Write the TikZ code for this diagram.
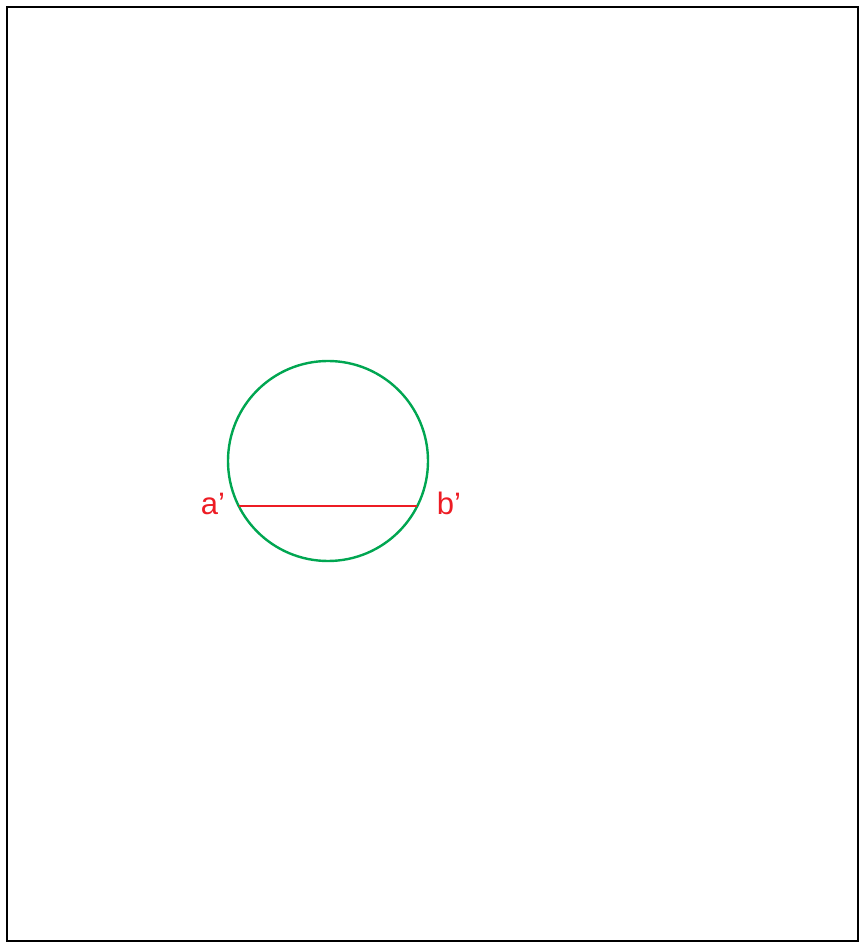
\documentclass[tikz,border=0pt]{standalone}
\usepackage{fontspec}
\setmainfont{Liberation Sans}
\definecolor{cgreen}{RGB}{0,166,81}
\definecolor{cred}{RGB}{237,28,36}
\begin{document}
\begin{tikzpicture}[x=1pt,y=1pt,
  frame/.style={draw=black,line width=2.4pt},
  ring/.style={draw=cgreen,line width=2.4pt},
  chord/.style={draw=cred,line width=2.4pt},
  lbl/.style={text=cred,font=\fontsize{31}{36}\selectfont,anchor=base,inner sep=0pt}]
\useasboundingbox (0,0) rectangle (864,943);
\draw[frame] (7,2) rectangle (858,936);
\coordinate (c) at (328,482);
\draw[ring] (c) circle (100);
\coordinate (a) at (238.7,437);
\coordinate (b) at (417.3,437);
\draw[chord] (a) -- (b);
\node[lbl] (la) at (213,428.5) {a’};
\node[lbl] (lb) at (449,428.5) {b’};
\end{tikzpicture}
\end{document}
